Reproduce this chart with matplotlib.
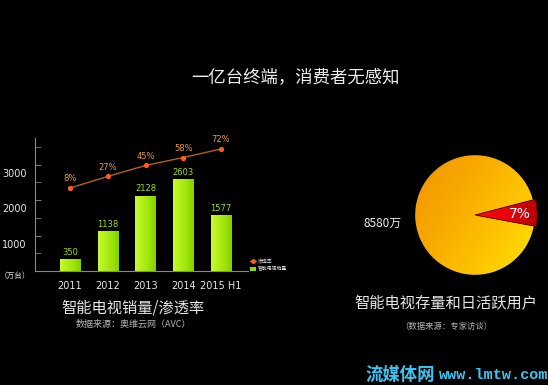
import matplotlib
matplotlib.use("Agg")
import matplotlib.pyplot as plt
import matplotlib.transforms as mtransforms
from matplotlib.colors import LinearSegmentedColormap
from matplotlib.lines import Line2D
from matplotlib.patches import Patch
import numpy as np

plt.rcParams['font.family'] = ['Noto Sans CJK SC', 'DejaVu Sans']

years = ["2011", "2012", "2013", "2014", "2015 H1"]
sales = [350, 1138, 2128, 2603, 1577]          # 万台
rates = [8, 27, 45, 58, 72]                    # %
pie_vals = [7, 93]
pie_labels = ["7%", "8580万"]

W, H = 548, 385
fig = plt.figure(figsize=(W / 100, H / 100), dpi=100, facecolor="black")

def px(x0, y0, x1, y1):
    # pixel box -> figure fraction rect
    return [x0 / W, 1 - y1 / H, (x1 - x0) / W, (y1 - y0) / H]

# ---------- bar + line chart ----------
ax = fig.add_axes(px(35, 138, 248, 271))
ax.set_facecolor("black")
x = np.arange(len(years))
bars = ax.bar(x, sales, width=0.53, color="none", zorder=2)

green = LinearSegmentedColormap.from_list("g", ["#c6fa30", "#b2f01a", "#9ee40a", "#84d000"])
grad = np.linspace(0, 1, 64).reshape(1, -1)
for b in bars:
    bx, by, bw, bh = b.get_x(), b.get_y(), b.get_width(), b.get_height()
    im = ax.imshow(grad, cmap=green, extent=[bx, bx + bw, by, by + bh],
                   aspect="auto", zorder=2)
    im.set_clip_path(b)

for xi, v in zip(x, sales):
    ax.annotate(str(v), (xi, v), xytext=(0, 1.5), textcoords="offset points",
                ha="center", va="bottom", color="#9fdc1e", fontsize=6,
                family="DejaVu Sans")

ax.set_xlim(-0.927, 4.715)
ax.set_ylim(0, 3750)
ax.set_xticks(x)
ax.set_xticklabels(years, color="#e8e8e8", fontsize=7, family="DejaVu Sans")
ax.tick_params(axis="x", length=0, pad=7)
ax.set_yticks([1000, 2000, 3000])
ax.set_yticks(np.arange(500, 3600, 500), minor=True)
ax.set_yticklabels(["1000", "2000", "3000"], color="#e8e8e8", fontsize=7,
                   family="DejaVu Sans")
ax.tick_params(axis="y", which="both", direction="in", length=4,
               color="#777777", pad=6)
off = mtransforms.ScaledTranslation(0, -8 / 100, fig.dpi_scale_trans)
for lab in ax.get_yticklabels():
    lab.set_transform(lab.get_transform() + off)
for s in ["top", "right"]:
    ax.spines[s].set_visible(False)
for s in ["left", "bottom"]:
    ax.spines[s].set_color("#888888")
    ax.spines[s].set_linewidth(0.8)

ax2 = ax.twinx()
ax2.set_ylim(-128, 90)
ax2.plot(x, rates, color="#b0601c", lw=1, zorder=3)
ax2.plot(x, rates, "o", color="#ff5a1e", ms=2.8, zorder=4)
for xi, r in zip(x, rates):
    ax2.annotate(f"{r}%", (xi, r), xytext=(0, 3.5), textcoords="offset points",
                 ha="center", va="bottom", color="#e89a30", fontsize=6,
                 family="DejaVu Sans")
ax2.axis("off")

handles = [Line2D([], [], color="#b0601c", lw=1, marker="o", ms=2.5,
                  markerfacecolor="#ff5a1e", markeredgecolor="#ff5a1e"),
           Patch(facecolor="#8fd810", edgecolor="none")]
fig.legend(handles, ["渗透率", "智能电视销量"], loc="upper left",
           bbox_to_anchor=(248 / W, 1 - 256 / H), frameon=False, fontsize=3.5,
           labelcolor="#dddddd", handlelength=1.2, handleheight=0.8,
           handletextpad=0.4, labelspacing=0.6, borderpad=0)

fig.text(15 / W, 1 - 276 / H, "（万台）", color="#dddddd", fontsize=5.5,
         ha="center", va="center")
fig.text(133 / W, 1 - 308 / H, "智能电视销量/渗透率", color="#e6e6e6",
         fontsize=11, ha="center", va="center")
fig.text(133 / W, 1 - 324 / H, "数据来源：奥维云网（AVC）", color="#b4b4b4",
         fontsize=6.5, ha="center", va="center")

# ---------- pie ----------
pax = fig.add_axes(px(405, 145, 545, 285))
pax.set_facecolor("black")
wedges, _ = pax.pie(pie_vals, startangle=-10.6, radius=1,
                    colors=["none", "none"], center=(0, 0),
                    wedgeprops=dict(linewidth=0))
pax.set_aspect("equal")
pax.axis("off")
wedges[0].set_radius(1.04)

yy, xx = np.mgrid[-1.1:1.1:200j, -1.1:1.1:200j]
orange = LinearSegmentedColormap.from_list("o", ["#f29400", "#f8a800", "#fdc400", "#ffe400"])
t = (xx - 0.6 * yy + 1.6) / 3.2
im = pax.imshow(t, cmap=orange, extent=[-1.1, 1.1, -1.1, 1.1], origin="lower",
                vmin=0, vmax=1, zorder=1)
im.set_clip_path(wedges[1])
red = LinearSegmentedColormap.from_list("r", ["#ff0a14", "#e8000c", "#b00008"])
im2 = pax.imshow(xx, cmap=red, extent=[-1.1, 1.1, -1.1, 1.1], origin="lower",
                 vmin=0, vmax=1.1, zorder=2)
im2.set_clip_path(wedges[0])
wedges[0].set_edgecolor("#5a0000")
wedges[0].set_linewidth(0.6)
wedges[0].set_zorder(3)
pax.set_xlim(-1.17, 1.17)
pax.set_ylim(-1.17, 1.17)

pax.text(0.75, 0.02, pie_labels[0], color="white", fontsize=10,
         ha="center", va="center", family="DejaVu Sans", zorder=4)
fig.text(382 / W, 1 - 223 / H, pie_labels[1], color="#f0f0f0", fontsize=8.5,
         ha="center", va="center")
fig.text(446 / W, 1 - 303 / H, "智能电视存量和日活跃用户", color="#e6e6e6",
         fontsize=11, ha="center", va="center")
fig.text(446 / W, 1 - 326 / H, "（数据来源：专家访谈）", color="#b4b4b4",
         fontsize=6, ha="center", va="center")

# ---------- headline + watermark ----------
fig.text(295 / W, 1 - 77 / H, "一亿台终端，消费者无感知", color="#eeeeee",
         fontsize=12.5, ha="center", va="center")
fig.text(365 / W, 1 - 375 / H, "流媒体网", color="#3cc4f2", fontsize=12.5,
         ha="left", va="center", fontweight="bold")
fig.text(548 / W, 1 - 375 / H, "www.lmtw.com", color="#3cc4f2", fontsize=11,
         ha="right", va="center", family="Liberation Mono", fontweight="bold")

fig.savefig("out.png", dpi=100, facecolor="black")
